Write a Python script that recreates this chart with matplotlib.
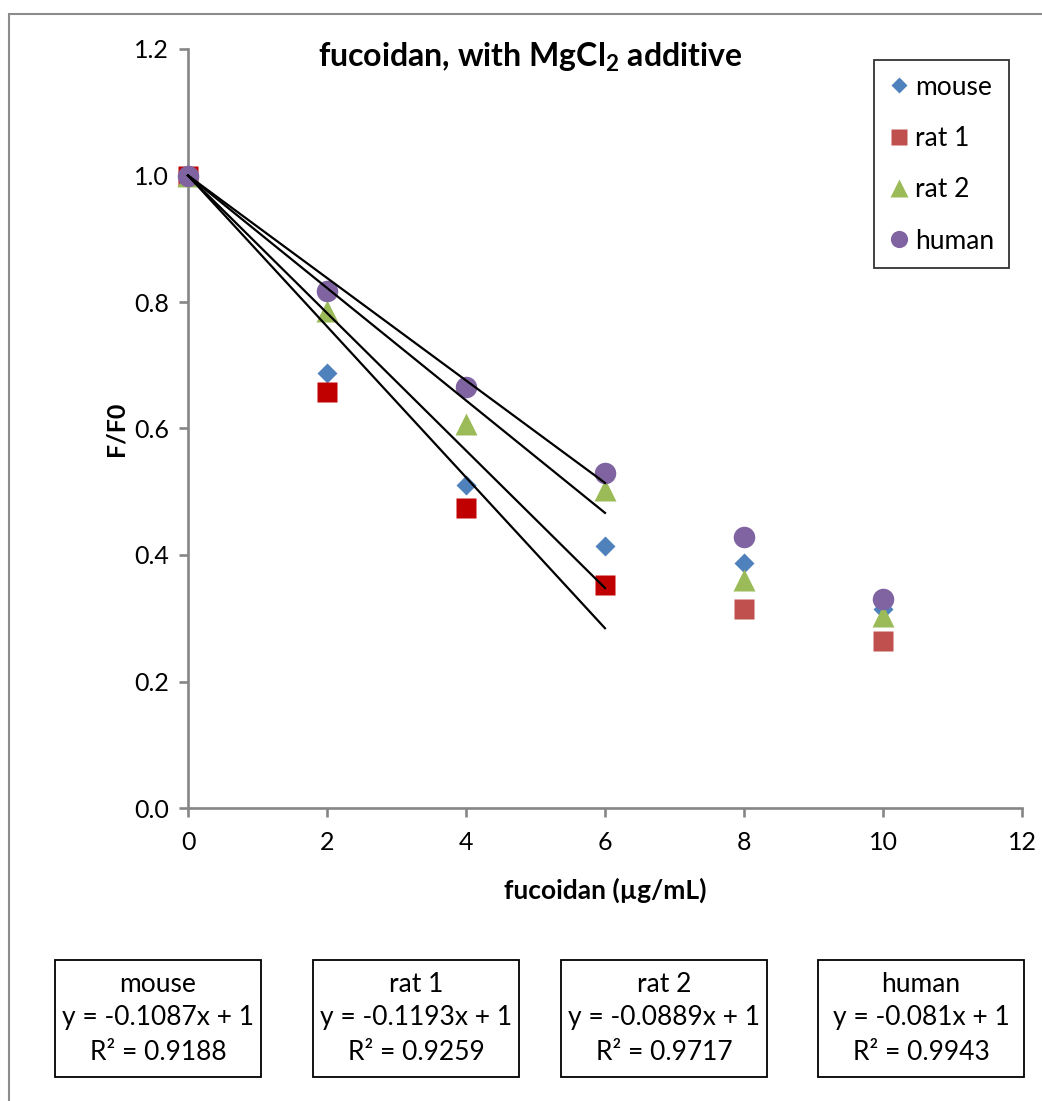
import matplotlib
matplotlib.use('Agg')
import matplotlib.pyplot as plt
from matplotlib.lines import Line2D
from matplotlib.patches import Rectangle
import numpy as np

# data
conc = [0, 2, 4, 6, 8, 10]
mouse = [1.0, 0.688, 0.511, 0.415, 0.387, 0.314]
rat1 = [1.0, 0.657, 0.474, 0.353, 0.314, 0.264]
rat2 = [1.0, 0.785, 0.607, 0.502, 0.361, 0.303]
human = [1.0, 0.818, 0.665, 0.529, 0.429, 0.330]
names = ['mouse', 'rat 1', 'rat 2', 'human']
slopes = [-0.1087, -0.1193, -0.0889, -0.081]
r2 = [0.9188, 0.9259, 0.9717, 0.9943]
n_fit = 4  # trendlines use the first four concentrations

plt.rcParams['font.family'] = ['Lato', 'DejaVu Sans']
plt.rcParams['mathtext.fontset'] = 'custom'
plt.rcParams['mathtext.rm'] = 'Lato'
plt.rcParams['mathtext.bf'] = 'Lato:bold'

colors = ['#4F81BD', '#C0504D', '#9BBB59', '#8064A2']
markers = ['D', 's', '^', 'o']
msizes = [10, 15, 15.5, 15.5]
red_fit = '#C00000'

fig = plt.figure(figsize=(10.42, 11.01), dpi=100)
ax = fig.add_axes([188/1042, 1 - 808/1101, (1022-188)/1042, (808-49)/1101])

series = [mouse, rat1, rat2, human]
x = np.array(conc)
for i, ys in enumerate(series):
    ys = np.array(ys)
    if names[i] == 'rat 1':
        # first points of rat 1 were recoloured
        ax.plot(x[:n_fit], ys[:n_fit], linestyle='none', marker=markers[i],
                ms=msizes[i], color=red_fit, mec='none', zorder=2 + i,
                clip_on=False)
        ax.plot(x[n_fit:], ys[n_fit:], linestyle='none', marker=markers[i],
                ms=msizes[i], color=colors[i], mec='none', zorder=2 + i,
                clip_on=False)
    else:
        ax.plot(x, ys, linestyle='none', marker=markers[i], ms=msizes[i],
                color=colors[i], mec='none', zorder=2 + i, clip_on=False)

# linear trendlines with intercept fixed at 1
xf = np.array([conc[0], conc[n_fit - 1]])
for s in slopes:
    ax.plot(xf, 1 + s * xf, color='black', lw=1.6, zorder=10, clip_on=False)

ax.set_xlim(0, 12)
ax.set_ylim(0, 1.2)
ax.set_xticks(np.arange(0, 13, 2))
ax.set_yticks(np.arange(0, 1.21, 0.2))
ax.yaxis.set_major_formatter(matplotlib.ticker.FormatStrFormatter('%.1f'))
for side in ['top', 'right']:
    ax.spines[side].set_visible(False)
for side in ['left', 'bottom']:
    ax.spines[side].set_color('#868686')
    ax.spines[side].set_linewidth(1.9)
    ax.spines[side].set_zorder(1)
ax.tick_params(direction='out', length=6.5, width=1.9, color='#868686',
               labelsize=18)
ax.tick_params(axis='y', pad=7)
ax.tick_params(axis='x', pad=10)
ax.set_xlabel('fucoidan (µg/mL)', fontsize=19, fontweight='bold', va='center')
ax.set_ylabel('F/F0', fontsize=18, fontweight='bold', va='center')
ax.xaxis.set_label_coords(0.5, -0.108)
ax.yaxis.set_label_coords(-0.086, 0.5)

fig.text(530/1042, 1 - 57/1101, r'fucoidan, with MgCl$_\mathbf{2}$ additive',
         ha='center', va='center', fontsize=23, fontweight='bold')

handles = [Line2D([], [], linestyle='none', marker=markers[i], ms=msizes[i] * 0.8,
                  color=colors[i], mec='none') for i in range(4)]
leg = fig.legend(handles, names, loc='upper left',
                 bbox_to_anchor=(874/1042, 1 - 60/1101), fontsize=19,
                 frameon=True, fancybox=False, edgecolor='black',
                 handlelength=0.8, handletextpad=0.2, labelspacing=1.0,
                 borderpad=0.55, borderaxespad=0)
leg.get_frame().set_linewidth(1.3)

# equation boxes below the chart
box_left = [55, 313, 561, 818]
for i in range(4):
    l = box_left[i]
    fig.add_artist(Rectangle((l/1042, 1 - 1077/1101), 206/1042, 117/1101,
                             transform=fig.transFigure, fill=False,
                             edgecolor='black', lw=1.3))
    cx = (l + 103) / 1042
    lines = [names[i], 'y = {}x + 1'.format(slopes[i]), 'R² = {}'.format(r2[i])]
    for j, t in enumerate(lines):
        fig.text(cx, 1 - (984 + 34 * j)/1101, t, ha='center', va='center',
                 fontsize=19)

# outer chart frame
fig.add_artist(Rectangle((9/1042, -0.05), 1.1, 1 - 14/1101 + 0.05,
                         transform=fig.transFigure, fill=False,
                         edgecolor='#8C8C8C', lw=1.5))

fig.savefig('out.png', dpi=100)
